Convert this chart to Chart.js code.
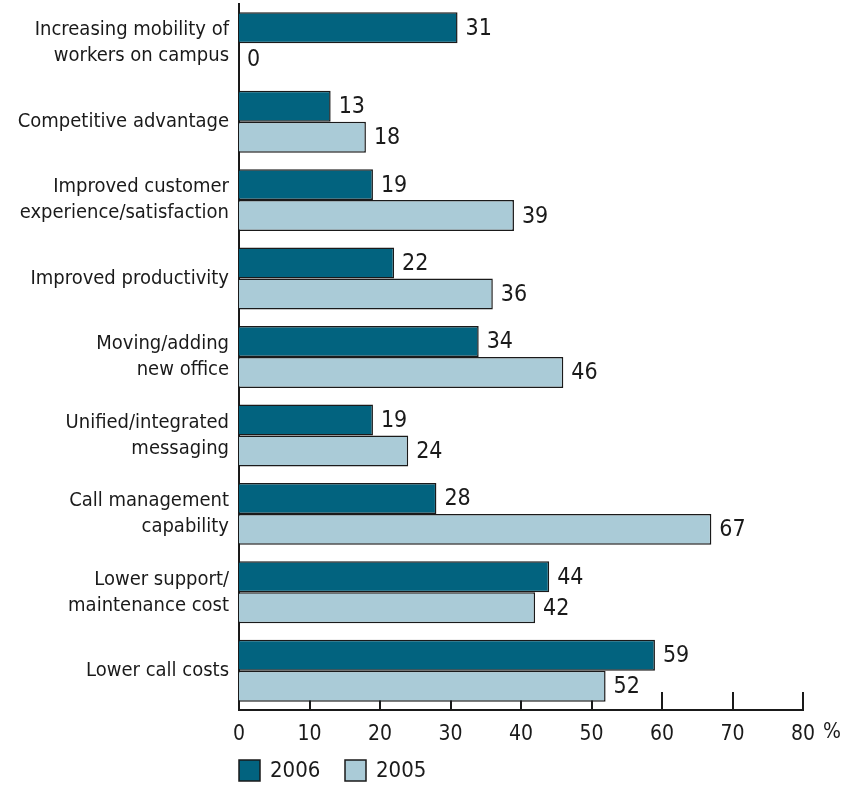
<!DOCTYPE html>
<html lang="en">
<head>
    <meta charset="UTF-8">
    <title>Reasons for deployment</title>
    <script src="https://cdn.jsdelivr.net/npm/chart.js"></script>
    <style>
        html, body { margin: 0; padding: 0; background: #fff; }
        #wrap { width: 841px; height: 785px; position: relative; }
    </style>
</head>
<body>
<div id="wrap">
    <canvas id="reasonsChart"></canvas>
</div>

<script>
    // Survey data (% of respondents)
    const categories = [
        ['Increasing mobility of', 'workers on campus'],
        'Competitive advantage',
        ['Improved customer', 'experience/satisfaction'],
        'Improved productivity',
        ['Moving/adding', 'new office'],
        ['Unified/integrated', 'messaging'],
        ['Call management', 'capability'],
        ['Lower support/', 'maintenance cost'],
        'Lower call costs'
    ];
    const values2006 = [31, 13, 19, 22, 34, 19, 28, 44, 59];
    const values2005 = [0, 18, 39, 36, 46, 24, 67, 42, 52];
    const seriesLabels = ['2006', '2005'];
    const xTicks = [0, 10, 20, 30, 40, 50, 60, 70, 80];

    const DARK = '#02637f';
    const LIGHT = '#aacbd7';
    const INK = '#1a1a1a';
    const COND = "'DejaVu Sans Condensed', 'Liberation Sans Narrow', sans-serif";

    // tick marks pointing up from the x axis, drawn under the bars
    const axisMarks = {
        id: 'axisMarks',
        beforeDatasetsDraw(chart) {
            const ctx = chart.ctx;
            const x = chart.scales.x;
            const bottom = chart.chartArea.bottom;
            ctx.save();
            ctx.strokeStyle = INK;
            ctx.lineWidth = 2;
            xTicks.slice(1).forEach(v => {
                const px = Math.round(x.getPixelForValue(v));
                ctx.beginPath();
                ctx.moveTo(px, bottom);
                ctx.lineTo(px, bottom - 18);
                ctx.stroke();
            });
            ctx.restore();
        },
        afterDatasetsDraw(chart) {
            // value at the end of each bar
            const ctx = chart.ctx;
            ctx.save();
            ctx.fillStyle = INK;
            ctx.font = '23px ' + COND;
            ctx.textAlign = 'left';
            ctx.textBaseline = 'middle';
            chart.data.datasets.forEach((ds, i) => {
                chart.getDatasetMeta(i).data.forEach((bar, j) => {
                    ctx.fillText(String(ds.data[j]), bar.x + 8, bar.y + 1);
                });
            });
            ctx.restore();
        },
        afterDraw(chart) {
            const ctx = chart.ctx;
            const x = chart.scales.x;
            ctx.save();
            // unit after the last tick
            ctx.fillStyle = INK;
            ctx.font = '21px ' + COND;
            ctx.textAlign = 'left';
            ctx.textBaseline = 'middle';
            ctx.fillText('%', x.getPixelForValue(80) + 20, 733);

            // legend
            let lx = x.getPixelForValue(0);
            const ly = 760;
            ctx.font = '22px ' + COND;
            chart.data.datasets.forEach(ds => {
                ctx.fillStyle = ds.backgroundColor;
                ctx.fillRect(lx, ly, 21, 21);
                ctx.strokeStyle = INK;
                ctx.lineWidth = 1.5;
                ctx.strokeRect(lx, ly, 21, 21);
                ctx.fillStyle = INK;
                ctx.fillText(ds.label, lx + 31, ly + 11);
                lx += 106;
            });
            ctx.restore();
        }
    };

    const ctx = document.getElementById('reasonsChart').getContext('2d');
    const reasonsChart = new Chart(ctx, {
        type: 'bar',
        data: {
            labels: categories,
            datasets: [{
                label: seriesLabels[0],
                data: values2006,
                backgroundColor: DARK,
                borderColor: INK,
                borderWidth: 1.5,
                categoryPercentage: 0.79,
                barPercentage: 1.0
            }, {
                label: seriesLabels[1],
                data: values2005,
                backgroundColor: LIGHT,
                borderColor: INK,
                borderWidth: 1.5,
                categoryPercentage: 0.79,
                barPercentage: 1.0
            }]
        },
        options: {
            indexAxis: 'y',
            responsive: true,
            maintainAspectRatio: false,
            animation: false,
            layout: {
                padding: { top: 4, right: 38, bottom: 30, left: 0 }
            },
            plugins: {
                legend: { display: false },
                tooltip: { enabled: false }
            },
            scales: {
                x: {
                    min: 0,
                    max: 80,
                    afterBuildTicks(scale) {
                        scale.ticks = xTicks.map(v => ({ value: v }));
                    },
                    afterFit(scale) { scale.height = 45; },
                    grid: { display: false, drawTicks: false },
                    border: { display: true, color: INK, width: 2 },
                    ticks: {
                        color: INK,
                        padding: 12,
                        maxRotation: 0,
                        font: { family: COND, size: 21 }
                    }
                },
                y: {
                    afterFit(scale) {
                        scale.width = 239;
                        // let the two-line labels overhang the plot edges
                        scale.paddingTop = 0;
                        scale.paddingBottom = 0;
                    },
                    grid: { display: false, drawTicks: false },
                    border: { display: true, color: INK, width: 2 },
                    ticks: {
                        color: INK,
                        padding: 10,
                        font: { family: COND, size: 20, lineHeight: 1.3 }
                    }
                }
            }
        },
        plugins: [axisMarks]
    });
</script>
</body>
</html>
